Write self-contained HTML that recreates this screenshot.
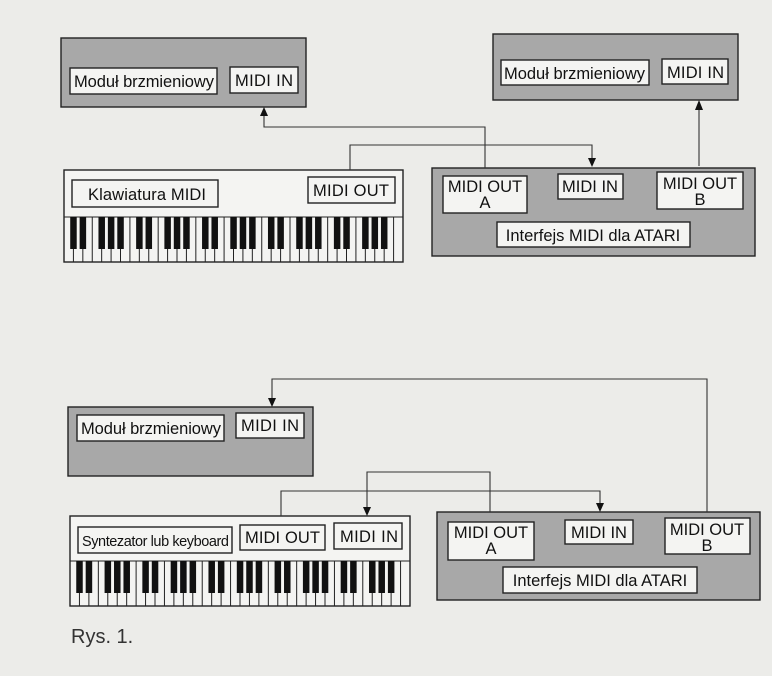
<!DOCTYPE html>
<html><head><meta charset="utf-8"><style>
html,body{margin:0;padding:0;background:#ecece9;}
svg{display:block}
text{font-family:"Liberation Sans",Arial,sans-serif;font-size:16.5px;fill:#111}
</style></head><body>
<svg id="s" width="772" height="676" viewBox="0 0 772 676" xmlns="http://www.w3.org/2000/svg">
<rect width="772" height="676" fill="#ecece9"/>
<g stroke="#222" stroke-width="1.4">
<rect x="61" y="38" width="245" height="69" fill="#a8a8a8"/>
<rect x="70" y="68" width="147" height="26" fill="#f4f4f2"/>
<rect x="230" y="67" width="68" height="26" fill="#f4f4f2"/>
<rect x="493" y="34" width="245" height="66" fill="#a8a8a8"/>
<rect x="501" y="60" width="148" height="25" fill="#f4f4f2"/>
<rect x="662" y="59" width="66" height="25" fill="#f4f4f2"/>
<rect x="64" y="170" width="339" height="92" fill="#f4f4f2"/>
<rect x="72" y="180" width="146" height="27" fill="#f4f4f2"/>
<rect x="308" y="177" width="87" height="26" fill="#f4f4f2"/>
<rect x="432" y="168" width="323" height="88" fill="#a8a8a8"/>
<rect x="443" y="176" width="84" height="37" fill="#f4f4f2"/>
<rect x="558" y="174" width="65" height="25" fill="#f4f4f2"/>
<rect x="657" y="172" width="86" height="37" fill="#f4f4f2"/>
<rect x="497" y="222" width="193" height="25" fill="#f4f4f2"/>
<rect x="68" y="407" width="245" height="69" fill="#a8a8a8"/>
<rect x="77" y="415" width="147" height="26" fill="#f4f4f2"/>
<rect x="236" y="413" width="68" height="25" fill="#f4f4f2"/>
<rect x="70" y="516" width="340" height="90" fill="#f4f4f2"/>
<rect x="78" y="527" width="154" height="26" fill="#f4f4f2"/>
<rect x="240" y="525" width="85" height="25" fill="#f4f4f2"/>
<rect x="334" y="523" width="68" height="26" fill="#f4f4f2"/>
<rect x="437" y="512" width="323" height="88" fill="#a8a8a8"/>
<rect x="448" y="522" width="86" height="38" fill="#f4f4f2"/>
<rect x="565" y="520" width="68" height="24" fill="#f4f4f2"/>
<rect x="665" y="518" width="85" height="36" fill="#f4f4f2"/>
<rect x="503" y="567" width="194" height="26" fill="#f4f4f2"/>
</g>
<g id="keys"></g>
<g fill="none" stroke="#333" stroke-width="1.1">
<polyline points="264,113 264,127 485,127 485,168"/>
<polyline points="350,170 350,145 592,145 592,160"/>
<polyline points="699,166 699,107"/>
<polyline points="272,400 272,379 707,379 707,512"/>
<polyline points="281,516 281,491 600,491 600,505"/>
<polyline points="367,509 367,472 490,472 490,512"/>
</g>
<g fill="#111">
<polygon points="264,107 260,116 268,116"/>
<polygon points="592,167 588,158 596,158"/>
<polygon points="699,100 695,110 703,110"/>
<polygon points="272,407 268,398 276,398"/>
<polygon points="600,512 596,503 604,503"/>
<polygon points="367,516 363,507 371,507"/>
</g>
<text x="74" y="87" textLength="140">Moduł brzmieniowy</text>
<text x="235" y="86" textLength="58">MIDI IN</text>
<text x="504" y="79" textLength="141">Moduł brzmieniowy</text>
<text x="667" y="78" textLength="57">MIDI IN</text>
<text x="88" y="200" textLength="118">Klawiatura MIDI</text>
<text x="313" y="196" textLength="76">MIDI OUT</text>
<text x="485" y="192" text-anchor="middle">MIDI OUT</text>
<text x="485" y="208" text-anchor="middle">A</text>
<text x="590" y="192" text-anchor="middle">MIDI IN</text>
<text x="700" y="189" text-anchor="middle">MIDI OUT</text>
<text x="700" y="205" text-anchor="middle">B</text>
<text x="593" y="241" text-anchor="middle">Interfejs MIDI dla ATARI</text>
<text x="81" y="434" textLength="140">Moduł brzmieniowy</text>
<text x="241" y="431" textLength="58">MIDI IN</text>
<text x="82" y="546" style="font-size:14.5px" textLength="147">Syntezator lub keyboard</text>
<text x="245" y="543" textLength="75">MIDI OUT</text>
<text x="340" y="542" textLength="58">MIDI IN</text>
<text x="491" y="538" text-anchor="middle">MIDI OUT</text>
<text x="491" y="554" text-anchor="middle">A</text>
<text x="599" y="538" text-anchor="middle">MIDI IN</text>
<text x="707" y="535" text-anchor="middle">MIDI OUT</text>
<text x="707" y="551" text-anchor="middle">B</text>
<text x="600" y="586" text-anchor="middle">Interfejs MIDI dla ATARI</text>
<text x="71" y="643" style="font-size:20px;fill:#333">Rys.  1.</text>
</svg>
<script>
(function(){
var g=document.getElementById('keys');
function kb(x0,x1,y0,y1,bl){
 var n=36,w=(x1-x0)/n,s='';
 s+='<line x1="'+x0+'" y1="'+y0+'" x2="'+x1+'" y2="'+y0+'" stroke="#222" stroke-width="1"/>';
 for(var i=1;i<n;i++){var x=x0+i*w;s+='<line x1="'+x+'" y1="'+y0+'" x2="'+x+'" y2="'+y1+'" stroke="#222" stroke-width="1"/>';}
 var pat=[1,1,0,1,1,1,0];
 for(var i=0;i<n-1;i++){if(pat[i%7]){var x=x0+(i+1)*w;s+='<rect x="'+(x-3.2)+'" y="'+y0+'" width="6.5" height="'+bl+'" fill="#111"/>';}}
 return s;
}
g.innerHTML=kb(64,403,217,262,32)+kb(70,410,561,606,32);
})();
</script>
</body></html>
